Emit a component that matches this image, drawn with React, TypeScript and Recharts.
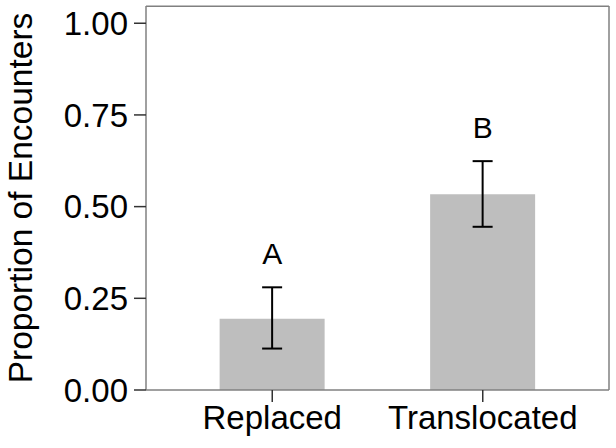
import { ComposedChart, Bar, Line, XAxis, YAxis, ErrorBar, LabelList, ReferenceLine } from 'recharts'

const groups = ['Replaced', 'Translocated']
const proportions = [0.194, 0.534]
const lower = [0.113, 0.445]
const upper = [0.28, 0.624]
const letters = ['A', 'B']
const yTicks = [0, 0.25, 0.5, 0.75, 1]
const yMax = 1.047

const FONT = '"Liberation Sans", Arial, sans-serif'
const BORDER = { stroke: '#808080', strokeWidth: 1.5 }

const data = groups.map((g, i) => ({
  group: g,
  value: proportions[i],
  err: [proportions[i] - lower[i], upper[i] - proportions[i]],
  letterAt: upper[i] + 0.093,
  letter: letters[i],
}))

const tickStyle = { fontSize: 33, fill: '#000', fontFamily: FONT }

export default function App() {
  return (
    <div style={{ position: 'absolute', left: 0, top: 0 }}>
      <ComposedChart
        width={616}
        height={448}
        data={data}
        margin={{ top: 6, right: 0, bottom: 0, left: 0 }}
        barCategoryGap="25%"
      >
        <XAxis
          dataKey="group"
          height={58}
          padding={{ left: 21, right: 21 }}
          tick={tickStyle}
          tickSize={12}
          tickMargin={4}
          axisLine={BORDER}
          tickLine={{ stroke: '#333', strokeWidth: 1.5 }}
        />
        <YAxis
          width={146}
          domain={[0, yMax]}
          allowDataOverflow
          ticks={yTicks}
          tickFormatter={v => v.toFixed(2)}
          tick={tickStyle}
          tickSize={12}
          tickMargin={6}
          axisLine={BORDER}
          tickLine={{ stroke: '#333', strokeWidth: 1.5 }}
          label={{
            content: () => (
              <text
                x={0}
                y={0}
                transform="translate(20,198) rotate(-90)"
                textAnchor="middle"
                dominantBaseline="central"
                fontSize={33.5}
                fontFamily={FONT}
                fill="#000"
              >
                Proportion of Encounters
              </text>
            ),
          }}
        />
        <YAxis yAxisId="right" orientation="right" width={7} domain={[0, yMax]} tick={false} tickLine={false}
          axisLine={BORDER} />
        <ReferenceLine y={yMax - 0.001} ifOverflow="visible" stroke="#808080" strokeWidth={1.5} />
        <Bar dataKey="value" fill="#bebebe" isAnimationActive={false}>
          <ErrorBar dataKey="err" width={10} stroke="#000" strokeWidth={2} />
        </Bar>
        <Line dataKey="letterAt" stroke="none" dot={false} activeDot={false} isAnimationActive={false}>
          <LabelList
            dataKey="letter"
            position="center"
            style={{ fontSize: 30, fill: '#000', fontFamily: FONT }}
          />
        </Line>
      </ComposedChart>
    </div>
  )
}
